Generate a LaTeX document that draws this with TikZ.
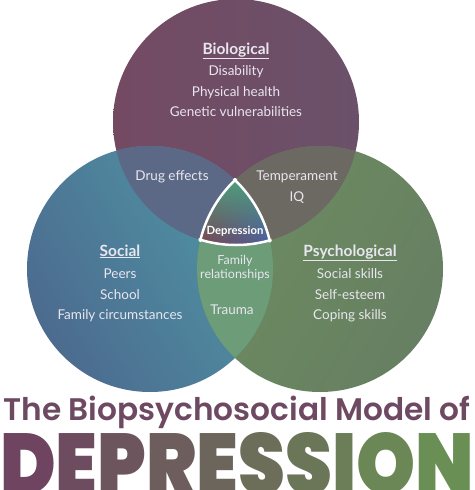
\documentclass[tikz,border=0pt]{standalone}
\usepackage{fontspec}
\usepackage{xcolor}
\setmainfont{Lato}
\IfFontExistsTF{Poppins SemiBold}{\newfontfamily\titlefont{Poppins SemiBold}}{\newfontfamily\titlefont{Poppins}}
\IfFontExistsTF{Poppins Black}{\newfontfamily\heavyfont{Poppins Black}}{\newcommand{\heavyfont}{\titlefont\bfseries}}
\usetikzlibrary{fadings}
\definecolor{bioA}{HTML}{744A63}
\definecolor{bioB}{HTML}{6A5169}
\definecolor{socA}{HTML}{4C6B8F}
\definecolor{socB}{HTML}{4F96A5}
\definecolor{psyA}{HTML}{6C8C60}
\definecolor{psyB}{HTML}{677F62}
\definecolor{biosoc}{HTML}{5C6986}
\definecolor{biopsy}{HTML}{6C6862}
\definecolor{socpsy}{HTML}{6C9C78}
\definecolor{trigreen}{HTML}{4EA27C}
\definecolor{tribrown}{HTML}{7B4B4B}
\definecolor{triblue}{HTML}{4863A6}
\definecolor{itemgray}{HTML}{E8E6EE}
\definecolor{titleplum}{HTML}{6E4A62}
\definecolor{wordplum}{HTML}{6E4460}
\definecolor{wordgreen}{HTML}{6A9055}
\newcommand{\heading}[1]{\underline{\textbf{#1}}}
\newcommand{\vennr}{123}

\begin{document}
\begin{tikzpicture}[x=1pt,y=-1pt,
  item/.style={text=itemgray,inner sep=0pt,text height=1.5ex,text depth=.3ex,font=\fontsize{13.5}{16}\selectfont},
  head/.style={text=itemgray,inner sep=0pt,text height=1.5ex,text depth=.3ex,font=\fontsize{15.5}{18}\selectfont}]
  \useasboundingbox (0,0) rectangle (474,490);
  \coordinate (B) at (236,122);
  \coordinate (S) at (150,269);
  \coordinate (P) at (320,269);
  % the three circles
  \shade[left color=bioA,right color=bioB] (B) circle (\vennr);
  \shade[left color=socA,right color=socB,shading angle=120] (S) circle (\vennr);
  \shade[left color=psyA,right color=psyB,shading angle=60] (P) circle (\vennr);
  % overlaps
  \begin{scope}
    \clip (B) circle (\vennr);
    \fill[biosoc] (S) circle (\vennr);
    \fill[biopsy] (P) circle (\vennr);
  \end{scope}
  \begin{scope}
    \clip (S) circle (\vennr);
    \fill[socpsy] (P) circle (\vennr);
  \end{scope}
  \begin{scope}
    \clip (B) circle (\vennr);
    \clip (S) circle (\vennr);
    \clip (P) circle (\vennr);
    \shade[left color=tribrown,right color=triblue] (195,175) rectangle (275,248);
    \fill[trigreen,path fading=south] (195,175) rectangle (275,240);
  \end{scope}
  % white rim of the centre
  \begin{scope}
    \clip (S) circle (\vennr+2); \clip (P) circle (\vennr+2);
    \draw[white,line width=2.5pt] (B) circle (\vennr);
  \end{scope}
  \begin{scope}
    \clip (B) circle (\vennr+2); \clip (P) circle (\vennr+2);
    \draw[white,line width=2.5pt] (S) circle (\vennr);
  \end{scope}
  \begin{scope}
    \clip (B) circle (\vennr+2); \clip (S) circle (\vennr+2);
    \draw[white,line width=2.5pt] (P) circle (\vennr);
  \end{scope}
  % labels
  \node[head] (bio) at (236,51) {\heading{Biological}};
  \foreach \t [count=\i] in {Disability,Physical health,Genetic vulnerabilities}
    \node[item] (bio\i) at (236,52+20.5*\i) {\t};
  \node[head] (soc) at (120,253) {\heading{Social}};
  \foreach \t [count=\i] in {Peers,School,Family circumstances}
    \node[item] (soc\i) at (120,255+20.5*\i) {\t};
  \node[head] (psy) at (350,253) {\heading{Psychological}};
  \foreach \t [count=\i] in {Social skills,Self-esteem,Coping skills}
    \node[item] (psy\i) at (350,255+20.5*\i) {\t};
  \node[item] (drug) at (172,177) {Drug effects};
  \node[item] (temp) at (297,177) {Temperament};
  \node[item] (iq) at (297,198) {IQ};
  \node[item,align=center,font=\fontsize{12.5}{14}\selectfont] (fam) at (235,275) {Family\\relationships};
  \node[item] (trauma) at (232,311) {Trauma};
  \node[text=white,inner sep=0pt,font=\fontsize{11.3}{13}\selectfont\bfseries] (dep) at (235,231) {Depression};
  % title
  \node[text=titleplum,inner sep=0pt,anchor=base] (title) at (237,420)
    {\resizebox{467pt}{!}{\titlefont The Biopsychosocial Model of}};
  \node[inner sep=0pt,anchor=south west] (word) at (0,495)
    {\resizebox{474pt}{62pt}{\heavyfont\foreach \ch [count=\i] in {D,E,P,R,E,S,S,I,O,N}{\pgfmathtruncatemacro\p{100-11*(\i-1)}\textcolor{wordplum!\p!wordgreen}{\ch}}}};
\end{tikzpicture}
\end{document}
